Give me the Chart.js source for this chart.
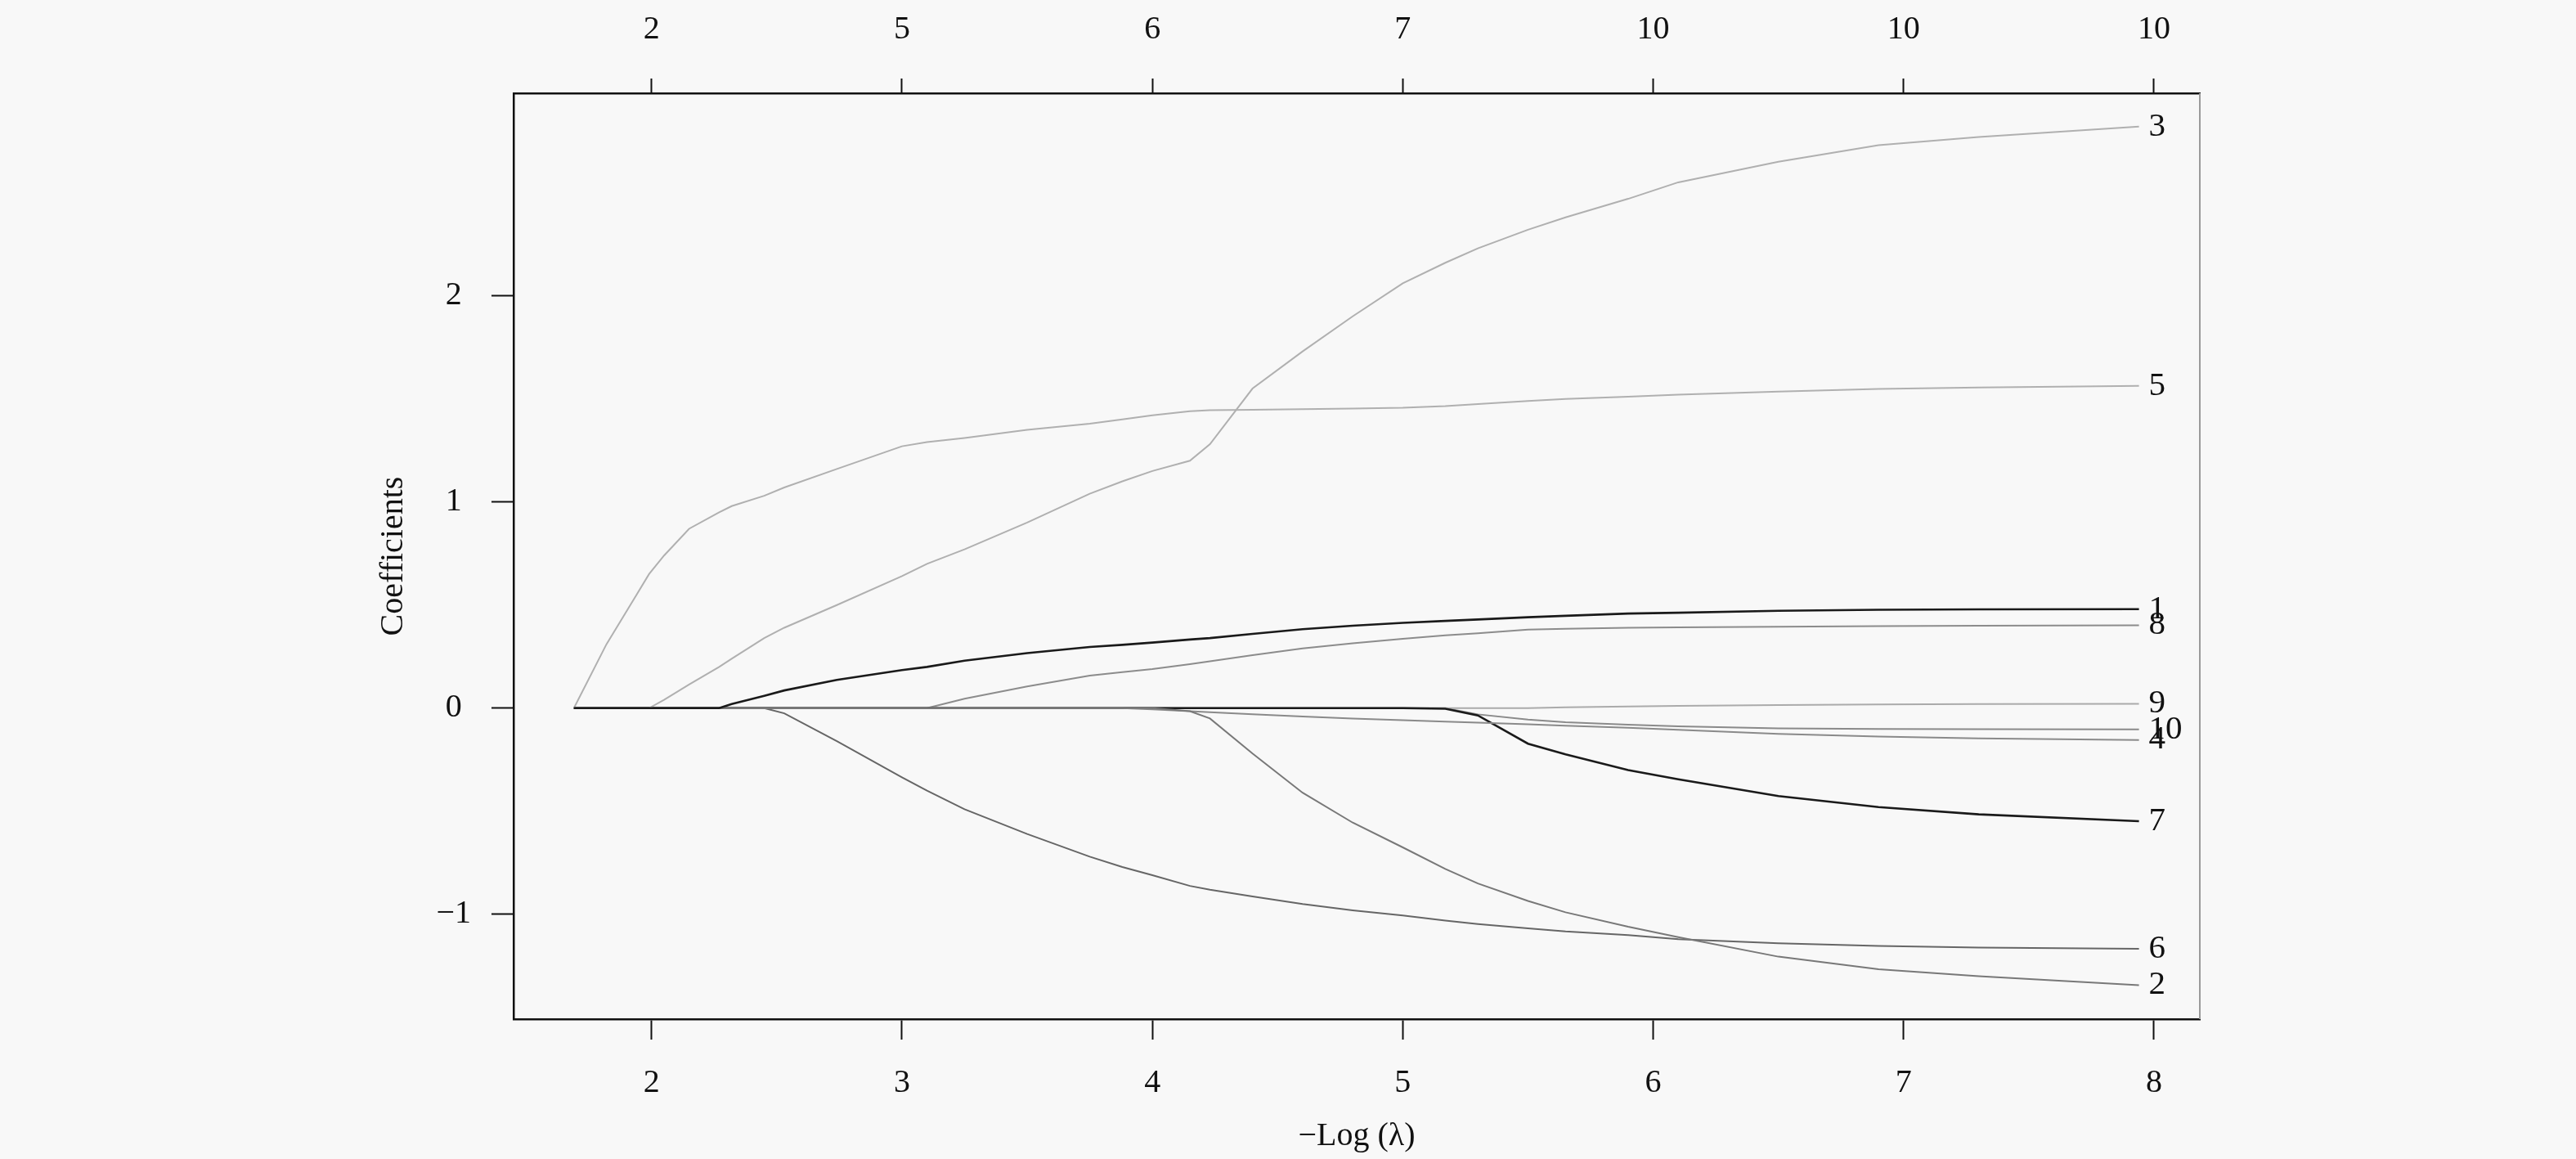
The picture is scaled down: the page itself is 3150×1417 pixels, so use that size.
<!DOCTYPE html>
<html>
<head>
<meta charset="utf-8">
<script src="https://cdn.jsdelivr.net/npm/chart.js@4.4.1/dist/chart.umd.min.js"></script>
<style>
  html, body { margin: 0; padding: 0; background: #f8f8f8; }
  canvas { display: block; }
</style>
</head>
<body>
<canvas id="path" width="3150" height="1417"></canvas>
<script>
// -log(lambda) grid along the lasso path
const logLambda = [1.69, 1.82, 1.94, 1.99, 2.05, 2.15, 2.27, 2.32, 2.45, 2.53, 2.74, 3.0, 3.1, 3.25, 3.5, 3.75, 3.88, 4.0, 4.15, 4.23, 4.4, 4.6, 4.8, 5.0, 5.17, 5.3, 5.5, 5.65, 5.9, 6.1, 6.5, 6.9, 7.3, 7.94];

// coefficient paths, one per variable
const coef1 = [0, 0, 0, 0, 0, 0, 0, 0.02, 0.06, 0.086, 0.137, 0.185, 0.2, 0.23, 0.267, 0.297, 0.307, 0.318, 0.333, 0.34, 0.36, 0.383, 0.4, 0.414, 0.423, 0.43, 0.441, 0.448, 0.459, 0.463, 0.472, 0.477, 0.479, 0.48];
const coef2 = [0, 0, 0, 0, 0, 0, 0, 0, 0, 0, 0, 0, 0, 0, 0, 0, 0, 0, -0.015, -0.05, -0.22, -0.41, -0.555, -0.675, -0.78, -0.85, -0.935, -0.99, -1.06, -1.11, -1.205, -1.266, -1.3, -1.343];
const coef3 = [0, 0, 0, 0, 0.04, 0.115, 0.2, 0.24, 0.34, 0.39, 0.5, 0.64, 0.7, 0.77, 0.9, 1.04, 1.1, 1.15, 1.2, 1.28, 1.55, 1.73, 1.9, 2.06, 2.16, 2.23, 2.32, 2.38, 2.47, 2.55, 2.65, 2.73, 2.77, 2.82];
const coef4 = [0, 0, 0, 0, 0, 0, 0, 0, 0, 0, 0, 0, 0, 0, 0, 0, 0, -0.006, -0.015, -0.02, -0.03, -0.04, -0.05, -0.058, -0.065, -0.07, -0.078, -0.085, -0.095, -0.105, -0.125, -0.138, -0.147, -0.154];
const coef5 = [0, 0.31, 0.55, 0.65, 0.74, 0.87, 0.95, 0.98, 1.03, 1.07, 1.16, 1.27, 1.29, 1.31, 1.35, 1.38, 1.4, 1.42, 1.44, 1.445, 1.447, 1.45, 1.453, 1.457, 1.465, 1.475, 1.49, 1.5, 1.51, 1.52, 1.535, 1.548, 1.555, 1.563];
const coef6 = [0, 0, 0, 0, 0, 0, 0, 0, 0, -0.025, -0.16, -0.335, -0.4, -0.49, -0.61, -0.72, -0.77, -0.81, -0.862, -0.88, -0.913, -0.95, -0.98, -1.005, -1.03, -1.047, -1.068, -1.083, -1.1, -1.12, -1.14, -1.153, -1.161, -1.167];
const coef7 = [0, 0, 0, 0, 0, 0, 0, 0, 0, 0, 0, 0, 0, 0, 0, 0, 0, 0, 0, 0, 0, 0, 0, 0, -0.003, -0.035, -0.172, -0.224, -0.3, -0.345, -0.426, -0.48, -0.515, -0.548];
const coef8 = [0, 0, 0, 0, 0, 0, 0, 0, 0, 0, 0, 0, 0, 0.046, 0.105, 0.158, 0.175, 0.19, 0.213, 0.227, 0.257, 0.29, 0.315, 0.336, 0.353, 0.363, 0.381, 0.385, 0.39, 0.392, 0.395, 0.398, 0.4, 0.402];
const coef9 = [0, 0, 0, 0, 0, 0, 0, 0, 0, 0, 0, 0, 0, 0, 0, 0, 0, 0, 0, 0, 0, 0, 0, 0, 0, 0, 0, 0.004, 0.008, 0.011, 0.015, 0.018, 0.02, 0.021];
const coef10 = [0, 0, 0, 0, 0, 0, 0, 0, 0, 0, 0, 0, 0, 0, 0, 0, 0, 0, 0, 0, 0, 0, 0, 0, 0, -0.03, -0.055, -0.068, -0.08, -0.088, -0.098, -0.101, -0.102, -0.103];

const varLabels = ['1', '2', '3', '4', '5', '6', '7', '8', '9', '10'];
const bottomTicks = [2, 3, 4, 5, 6, 7, 8];
const dfLabels = ['2', '5', '6', '7', '10', '10', '10'];
const yTicks = [-1, 0, 1, 2];

const lineColors = ['#1a1a1a', '#787878', '#b0b0b0', '#8a8a8a', '#b0b0b0', '#666666', '#1a1a1a', '#8c8c8c', '#ababab', '#8a8a8a'];
const lineWidths = [2.6, 2, 2, 2, 2, 2, 2.6, 2, 2, 2];

const allCoefs = [coef1, coef2, coef3, coef4, coef5, coef6, coef7, coef8, coef9, coef10];

Chart.defaults.font.family = "'Liberation Serif', 'DejaVu Serif', serif";
Chart.defaults.font.size = 40;
Chart.defaults.color = '#111';

const datasets = allCoefs.map((c, i) => ({
    label: varLabels[i],
    data: logLambda.map((x, j) => ({ x: x, y: c[j] })),
    borderColor: lineColors[i],
    borderWidth: lineWidths[i],
    pointRadius: 0,
    tension: 0,
    fill: false
}));

// variable numbers at the right end of each path, plus the thin right frame
const endLabels = {
    id: 'endLabels',
    afterDatasetsDraw(chart) {
        const ctx = chart.ctx;
        const area = chart.chartArea;
        ctx.save();
        ctx.strokeStyle = '#9a9a9a';
        ctx.lineWidth = 2;
        ctx.beginPath();
        ctx.moveTo(area.right, area.top);
        ctx.lineTo(area.right, area.bottom);
        ctx.stroke();

        ctx.font = "41px 'Liberation Serif', serif";
        ctx.fillStyle = '#111';
        ctx.textAlign = 'left';
        ctx.textBaseline = 'middle';
        chart.data.datasets.forEach((ds, i) => {
            const pts = chart.getDatasetMeta(i).data;
            const p = pts[pts.length - 1];
            ctx.fillText(ds.label, p.x + 12, p.y);
        });
        ctx.restore();
    }
};

const xMin = 1.449, xMax = 8.183;

new Chart(document.getElementById('path'), {
    type: 'line',
    data: { datasets: datasets },
    options: {
        responsive: false,
        animation: false,
        layout: { padding: { left: 0, right: 460, top: 0, bottom: 0 } },
        plugins: { legend: { display: false }, tooltip: { enabled: false } },
        scales: {
            x: {
                type: 'linear',
                position: 'bottom',
                min: xMin,
                max: xMax,
                afterBuildTicks: s => { s.ticks = bottomTicks.map(v => ({ value: v })); },
                afterFit: s => { s.height = 171; },
                ticks: { padding: 29, color: '#111', callback: v => String(v) },
                grid: { drawOnChartArea: false, drawTicks: true, tickLength: 25, tickColor: '#111', tickWidth: 2 },
                border: { display: true, color: '#111', width: 2.5 },
                title: { display: true, text: '\u2212Log (\u03bb)', color: '#111', padding: { top: 0, bottom: 4 } }
            },
            xTop: {
                type: 'linear',
                position: 'top',
                min: xMin,
                max: xMax,
                afterBuildTicks: s => { s.ticks = bottomTicks.map(v => ({ value: v })); },
                afterFit: s => { s.height = 114; },
                ticks: { padding: 36, color: '#111', callback: v => dfLabels[bottomTicks.indexOf(v)] },
                grid: { drawOnChartArea: false, drawTicks: true, tickLength: 18, tickColor: '#111', tickWidth: 2 },
                border: { display: true, color: '#111', width: 2.5 }
            },
            y: {
                type: 'linear',
                position: 'left',
                min: -1.508,
                max: 2.982,
                afterBuildTicks: s => { s.ticks = yTicks.map(v => ({ value: v })); },
                afterFit: s => { s.width = 628; },
                ticks: { padding: 25, crossAlign: 'center', color: '#111', callback: v => v < 0 ? '\u2212' + Math.abs(v) : String(v) },
                grid: { drawOnChartArea: false, drawTicks: true, tickLength: 27, tickColor: '#111', tickWidth: 2 },
                border: { display: true, color: '#111', width: 2.5 },
                title: { display: true, text: 'Coefficients', color: '#111', padding: { top: 457, bottom: 0 } }
            }
        }
    },
    plugins: [endLabels]
});
</script>
</body>
</html>
